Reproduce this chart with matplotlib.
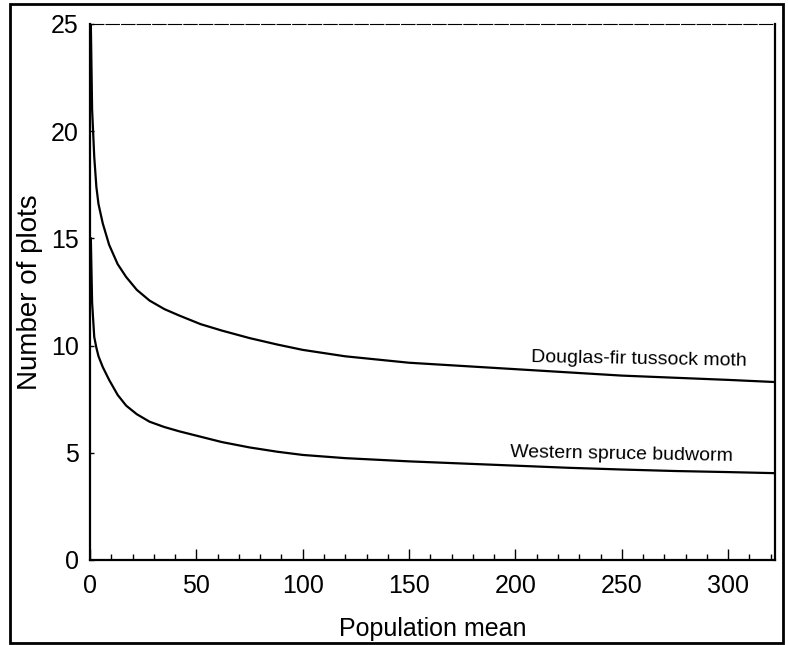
import matplotlib
matplotlib.use('Agg')
import matplotlib.pyplot as plt
from matplotlib.patches import Rectangle
from matplotlib.ticker import MultipleLocator

plt.rcParams['font.family'] = ['Liberation Sans', 'DejaVu Sans']

# values
pop_mean = [0.4, 1, 2, 3, 4, 6, 9, 13, 17, 22, 28, 35, 42, 52, 62, 75, 88,
            100, 120, 150, 175, 200, 225, 250, 275, 300, 322]
douglas_fir = [25, 21, 18.8, 17.4, 16.6, 15.7, 14.7, 13.8, 13.2, 12.6, 12.1,
               11.7, 11.4, 11.0, 10.7, 10.35, 10.05, 9.8, 9.5, 9.2, 9.05, 8.9,
               8.75, 8.6, 8.5, 8.4, 8.3]
spruce_budworm = [15, 12.0, 10.4, 9.9, 9.5, 9.0, 8.4, 7.7, 7.2, 6.8, 6.45,
                  6.2, 6.0, 5.75, 5.5, 5.25, 5.05, 4.9, 4.75, 4.6, 4.5, 4.4,
                  4.3, 4.22, 4.15, 4.1, 4.05]

fig = plt.figure(figsize=(7.88, 6.45), dpi=100)
ax = fig.add_axes([0.1142, 0.1318, 0.8693, 0.831])

ax.plot(pop_mean, douglas_fir, color='black', lw=1.6)
ax.plot(pop_mean, spruce_budworm, color='black', lw=1.6)

ax.text(258, 9.35, 'Douglas-fir tussock moth', fontsize=14, ha='center',
        va='center', rotation=-1)
ax.text(250, 4.9, 'Western spruce budworm', fontsize=14, ha='center',
        va='center', rotation=-1)

ax.set_xlim(0, 322)
ax.set_ylim(0, 25)
ax.xaxis.set_major_locator(MultipleLocator(50))
ax.xaxis.set_minor_locator(MultipleLocator(10))
ax.yaxis.set_major_locator(MultipleLocator(5))
ax.tick_params(axis='x', which='major', direction='in', length=8, width=1,
               labelsize=18, pad=10)
ax.tick_params(axis='x', which='minor', direction='in', length=4, width=1)
ax.tick_params(axis='y', which='major', direction='in', length=3, width=1,
               labelsize=18, pad=8)

for side in ['left', 'bottom', 'right']:
    ax.spines[side].set_linewidth(1.6)
ax.spines['top'].set_linewidth(0.8)
ax.spines['top'].set_linestyle((0, (12, 2)))

ax.set_xlabel('Population mean', fontsize=18, labelpad=14)
ax.set_ylabel('Number of plots', fontsize=20, labelpad=6)

# outer frame of the scanned page
fig.patches.append(Rectangle((10 / 788, 2 / 645), 773 / 788, 639 / 645,
                             transform=fig.transFigure, fill=False,
                             edgecolor='black', lw=2))

fig.savefig('out.png', dpi=100)
